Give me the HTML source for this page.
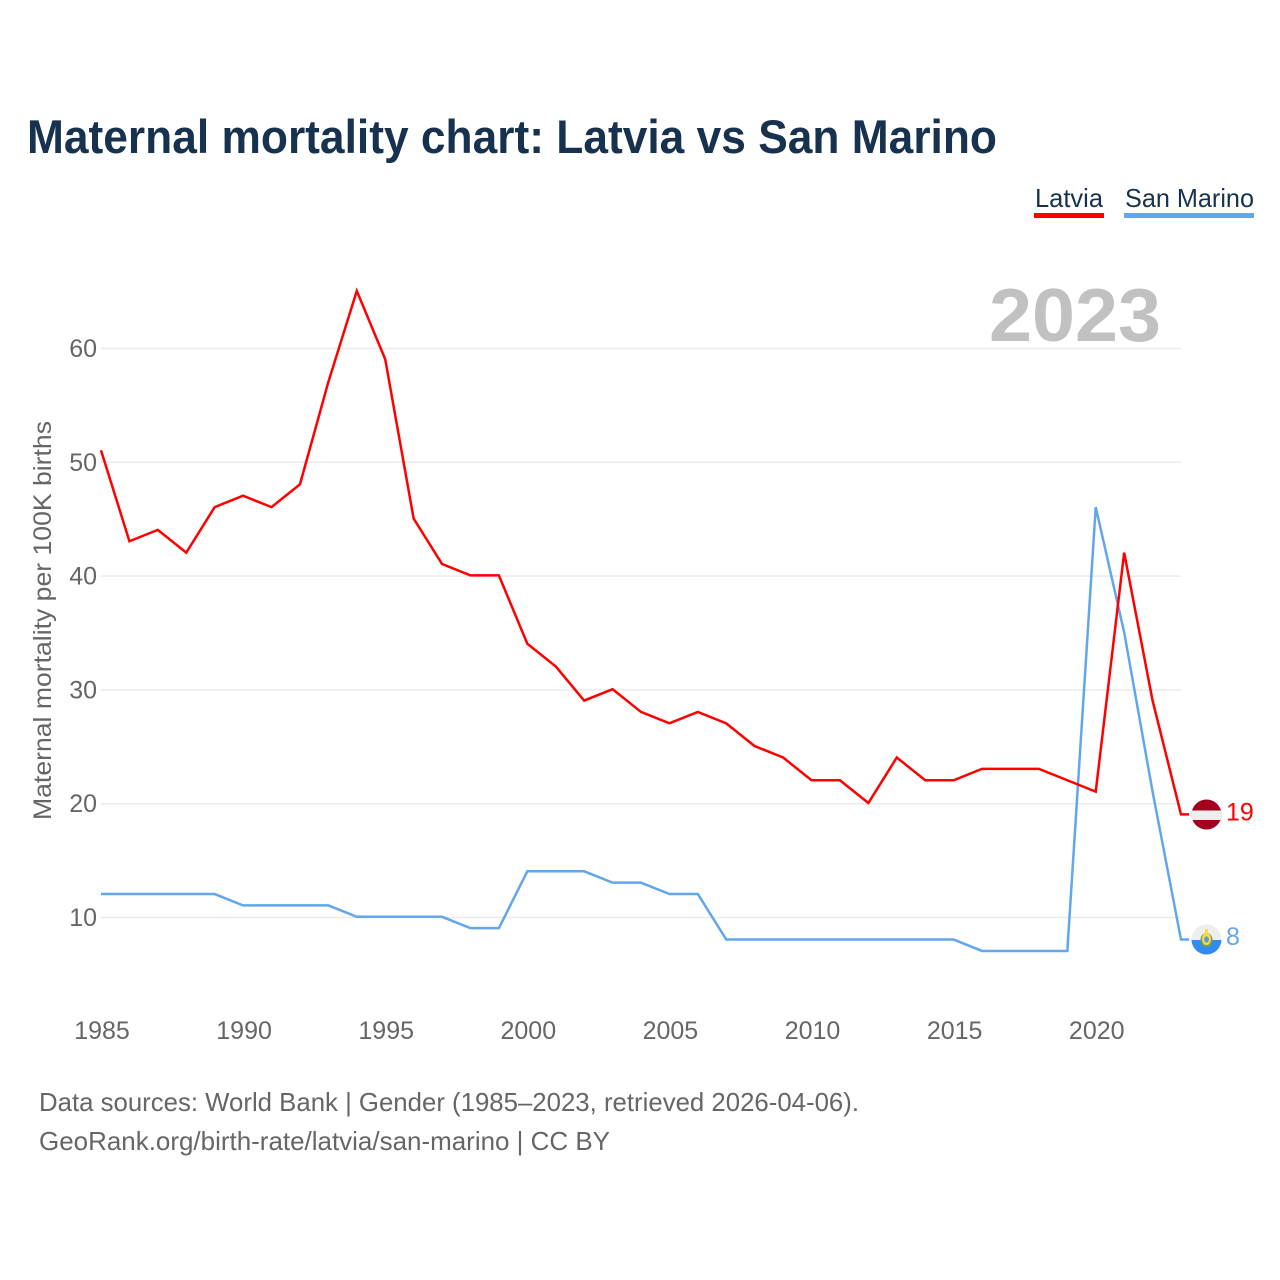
<!DOCTYPE html>
<html lang="en">
<head>
<meta charset="utf-8">
<title>Maternal mortality chart: Latvia vs San Marino</title>
<style>
html,body{margin:0;padding:0;background:#fff;}
svg{display:block;}
text{font-family:"Liberation Sans",sans-serif;}
</style>
</head>
<body>
<svg id="chart" xmlns="http://www.w3.org/2000/svg" width="1280" height="1280" viewBox="0 0 1280 1280">
  <rect x="0" y="0" width="1280" height="1280" fill="#ffffff"/>
  <text x="27" y="153" font-size="47" font-weight="700" fill="#17324f" textLength="970" lengthAdjust="spacingAndGlyphs">Maternal mortality chart: Latvia vs San Marino</text>

  <g>
    <text x="1035" y="207" font-size="26" fill="#17324f" textLength="68" lengthAdjust="spacingAndGlyphs">Latvia</text>
    <rect x="1034" y="213" width="70" height="5" fill="#ff0000"/>
  </g>
  <g>
    <text x="1125" y="207" font-size="26" fill="#17324f" textLength="129" lengthAdjust="spacingAndGlyphs">San Marino</text>
    <rect x="1124" y="213" width="130" height="5" fill="#62a6ec"/>
  </g>

  <text x="989" y="341" font-size="75" font-weight="700" fill="#c1c1c1" textLength="172" lengthAdjust="spacingAndGlyphs">2023</text>

  <g id="grid"></g>
  <g id="y-ticks"></g>
  <g id="x-ticks"></g>

  <text transform="translate(51,820) rotate(-90)" font-size="25" fill="#666666" textLength="399" lengthAdjust="spacingAndGlyphs">Maternal mortality per 100K births</text>

  <g id="series" transform="translate(0,-0.7)"></g>

  <defs>
    <clipPath id="flag-clip-lv"><circle id="lv-clip-circle" cx="1206.5" cy="814.5" r="15"/></clipPath>
    <clipPath id="flag-clip-sm"><circle id="sm-clip-circle" cx="1206.5" cy="939.5" r="15"/></clipPath>
  </defs>
  <g id="flag-latvia" clip-path="url(#flag-clip-lv)">
    <rect x="1191" y="799" width="31" height="31" fill="#a2001d"/>
    <rect x="1191" y="810.5" width="31" height="9.5" fill="#eeeeee"/>
  </g>
  <g id="flag-san-marino" clip-path="url(#flag-clip-sm)">
    <rect x="1191" y="924" width="31" height="16" fill="#eeeeee"/>
    <rect x="1191" y="940" width="31" height="16" fill="#338af3"/>
    <ellipse cx="1206.5" cy="940" rx="6" ry="7" fill="#6da544"/>
    <ellipse cx="1206.5" cy="939" rx="4.5" ry="6" fill="#ffda44"/>
    <ellipse cx="1206.5" cy="939.5" rx="2.4" ry="3.2" fill="#5c9bd8"/>
    <rect x="1205" y="929" width="3" height="4" fill="#ffda44"/>
  </g>

  <text id="end-label-latvia" x="1226" y="820" font-size="25" fill="#ff0000">19</text>
  <text id="end-label-san-marino" x="1226" y="944" font-size="25" fill="#62a6ec">8</text>

  <text x="39" y="1111" font-size="26" fill="#666666" textLength="820" lengthAdjust="spacingAndGlyphs">Data sources: World Bank | Gender (1985–2023, retrieved 2026-04-06).</text>
  <text x="39" y="1150" font-size="26" fill="#666666" textLength="571" lengthAdjust="spacingAndGlyphs">GeoRank.org/birth-rate/latvia/san-marino | CC BY</text>
</svg>
<script>
const years = [1985,1986,1987,1988,1989,1990,1991,1992,1993,1994,1995,1996,1997,1998,1999,2000,2001,2002,2003,2004,2005,2006,2007,2008,2009,2010,2011,2012,2013,2014,2015,2016,2017,2018,2019,2020,2021,2022,2023];
const latviaValues = [51,43,44,42,46,47,46,48,57,65,59,45,41,40,40,34,32,29,30,28,27,28,27,25,24,22,22,20,24,22,22,23,23,23,22,21,42,29,19];
const sanMarinoValues = [12,12,12,12,12,11,11,11,11,10,10,10,10,9,9,14,14,14,13,13,12,12,8,8,8,8,8,8,8,8,8,7,7,7,7,46,35,21,8];
const yTickValues = [10,20,30,40,50,60];
const xTickValues = [1985,1990,1995,2000,2005,2010,2015,2020];

const NS = 'http://www.w3.org/2000/svg';
const xScale = function (year) { return 101 + (year - 1985) * (1080 / 38); };
const yScale = function (value) { return 1031.3 - value * 11.38; };

function make(tag, parent) {
  const el = document.createElementNS(NS, tag);
  parent.appendChild(el);
  return el;
}

const gridGroup = document.getElementById('grid');
const yTickGroup = document.getElementById('y-ticks');
yTickValues.forEach(function (v) {
  const line = make('line', gridGroup);
  
  
  line.setAttribute('x1', 101);
  line.setAttribute('x2', 1181);
  line.setAttribute('y1', yScale(v));
  line.setAttribute('y2', yScale(v));
  line.setAttribute('stroke', '#ebebeb');
  line.setAttribute('stroke-width', '1.5');
  const label = make('text', yTickGroup);
  
  
  label.setAttribute('x', 97);
  label.setAttribute('y', yScale(v) + 8.5);
  label.setAttribute('text-anchor', 'end');
  label.setAttribute('font-size', '25');
  label.setAttribute('fill', '#666666');
  label.textContent = String(v);
});

const xTickGroup = document.getElementById('x-ticks');
xTickValues.forEach(function (y) {
  const label = make('text', xTickGroup);
  
  
  label.setAttribute('x', xScale(y) + 1);
  label.setAttribute('y', 1039);
  label.setAttribute('text-anchor', 'middle');
  label.setAttribute('font-size', '25');
  label.setAttribute('fill', '#666666');
  label.textContent = String(y);
});

const seriesGroup = document.getElementById('series');
function drawSeries(values, color, name) {
  const pts = values.map(function (v, i) { return xScale(years[i]) + ',' + yScale(v); });
  const lastY = yScale(values[values.length - 1]);
  pts.push('1189,' + lastY);
  const path = make('polyline', seriesGroup);
  
  
  path.setAttribute('points', pts.join(' '));
  path.setAttribute('fill', 'none');
  path.setAttribute('stroke', color);
  path.setAttribute('stroke-width', '2.5');
  path.setAttribute('stroke-linejoin', 'miter');
}
drawSeries(sanMarinoValues, '#62a6ec', 'san-marino-line');
drawSeries(latviaValues, '#ff0000', 'latvia-line');

const lastLatvia = latviaValues[latviaValues.length - 1];
const lastSanMarino = sanMarinoValues[sanMarinoValues.length - 1];
const latviaEnd = document.getElementById('end-label-latvia');
latviaEnd.textContent = String(lastLatvia);
latviaEnd.setAttribute('y', yScale(lastLatvia) + 5.5);
const sanMarinoEnd = document.getElementById('end-label-san-marino');
sanMarinoEnd.textContent = String(lastSanMarino);
sanMarinoEnd.setAttribute('y', yScale(lastSanMarino) + 4.5);
</script>
</body>
</html>
